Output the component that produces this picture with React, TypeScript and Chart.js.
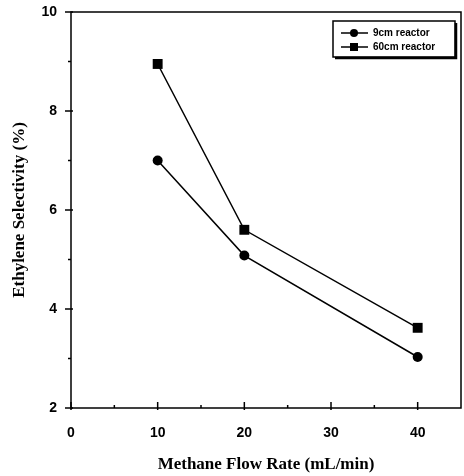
import React, { useEffect, useRef } from "react";
import { Chart, registerables } from "chart.js";

Chart.register(...registerables);

const flowRates = [10, 20, 40];
const reactor9cm = [7.0, 5.08, 3.03];
const reactor60cm = [8.95, 5.6, 3.62];
const seriesLabels = ["9cm reactor", "60cm reactor"];
const xTickValues = [0, 10, 20, 30, 40];
const xMinorValues = [5, 15, 25, 35];
const yTickValues = [2, 4, 6, 8, 10];
const yMinorValues = [3, 5, 7, 9];

const framePlugin = {
  id: "frameTicks",
  afterDraw(chart: any) {
    const { ctx, chartArea, scales } = chart;
    const { left, right, top, bottom } = chartArea;
    ctx.save();
    ctx.strokeStyle = "#000";
    ctx.lineWidth = 1.5;
    ctx.strokeRect(left, top, right - left, bottom - top);
    yTickValues.forEach((v) => {
      const y = scales.y.getPixelForValue(v);
      ctx.beginPath();
      ctx.moveTo(left - 6, y);
      ctx.lineTo(left + 2, y);
      ctx.stroke();
    });
    yMinorValues.forEach((v) => {
      const y = scales.y.getPixelForValue(v);
      ctx.beginPath();
      ctx.moveTo(left - 3, y);
      ctx.lineTo(left, y);
      ctx.stroke();
    });
    xTickValues.forEach((v) => {
      const x = scales.x.getPixelForValue(v);
      ctx.beginPath();
      ctx.moveTo(x, bottom + 2);
      ctx.lineTo(x, bottom - 6);
      ctx.stroke();
    });
    xMinorValues.forEach((v) => {
      const x = scales.x.getPixelForValue(v);
      ctx.beginPath();
      ctx.moveTo(x, bottom);
      ctx.lineTo(x, bottom - 3);
      ctx.stroke();
    });
    ctx.restore();
  },
};

const legendPlugin = {
  id: "boxLegend",
  afterDraw(chart: any) {
    const { ctx, chartArea } = chart;
    const bx = chartArea.right - 128;
    const by = chartArea.top + 9;
    const bw = 122;
    const bh = 36;
    ctx.save();
    ctx.fillStyle = "#fff";
    ctx.fillRect(bx, by, bw, bh);
    ctx.strokeStyle = "#000";
    ctx.lineWidth = 1.5;
    ctx.strokeRect(bx, by, bw, bh);
    ctx.lineWidth = 2.5;
    ctx.beginPath();
    ctx.moveTo(bx + bw + 1, by + 2);
    ctx.lineTo(bx + bw + 1, by + bh + 1);
    ctx.lineTo(bx + 2, by + bh + 1);
    ctx.stroke();
    ctx.font = "bold 10px 'Liberation Sans', Arial, sans-serif";
    ctx.textBaseline = "middle";
    ctx.fillStyle = "#000";
    const rows = [by + 12, by + 26];
    rows.forEach((ry, i) => {
      ctx.lineWidth = 1.5;
      ctx.beginPath();
      ctx.moveTo(bx + 8, ry);
      ctx.lineTo(bx + 35, ry);
      ctx.stroke();
      ctx.beginPath();
      if (i === 0) {
        ctx.arc(bx + 21, ry, 4, 0, Math.PI * 2);
      } else {
        ctx.rect(bx + 17, ry - 4, 8, 8);
      }
      ctx.fill();
      ctx.fillText(seriesLabels[i], bx + 40, ry);
    });
    ctx.restore();
  },
};

export default function App() {
  const ref = useRef<HTMLCanvasElement>(null);
  useEffect(() => {
    document.body.style.margin = "0";
    const chart = new Chart(ref.current!, {
      type: "line",
      data: {
        datasets: [
          {
            label: seriesLabels[0],
            data: flowRates.map((x, i) => ({ x, y: reactor9cm[i] })),
            borderColor: "#000",
            backgroundColor: "#000",
            borderWidth: 1.5,
            pointStyle: "circle",
            pointRadius: 5,
            pointBorderWidth: 0,
            tension: 0,
          },
          {
            label: seriesLabels[1],
            data: flowRates.map((x, i) => ({ x, y: reactor60cm[i] })),
            borderColor: "#000",
            backgroundColor: "#000",
            borderWidth: 1.5,
            pointStyle: "rect",
            pointRadius: 7,
            pointBorderWidth: 0,
            tension: 0,
          },
        ],
      },
      options: {
        animation: false,
        responsive: false,
        layout: { autoPadding: false, padding: { top: 12, right: 3, left: 0, bottom: 0 } },
        plugins: { legend: { display: false }, tooltip: { enabled: false } },
        scales: {
          x: {
            type: "linear",
            min: 0,
            max: 45,
            afterBuildTicks: (s: any) => {
              s.ticks = xTickValues.map((v) => ({ value: v }));
            },
            afterFit: (s: any) => {
              s.height = 68;
              s.paddingLeft = 0;
              s.paddingRight = 0;
            },
            grid: { display: false, drawTicks: false },
            border: { display: false },
            ticks: {
              color: "#000",
              padding: 17,
              maxRotation: 0,
              font: { family: "'Liberation Sans', Arial, sans-serif", size: 14, weight: "bold" },
            },
            title: {
              display: true,
              text: "Methane Flow Rate (mL/min)",
              color: "#000",
              padding: { top: 0, bottom: 1 },
              font: { family: "'Liberation Serif', 'Times New Roman', serif", size: 17, weight: "bold" },
            },
          },
          y: {
            type: "linear",
            min: 2,
            max: 10,
            afterBuildTicks: (s: any) => {
              s.ticks = yTickValues.map((v) => ({ value: v }));
            },
            afterFit: (s: any) => {
              s.width = 71;
              s.paddingTop = 0;
              s.paddingBottom = 0;
            },
            grid: { display: false, drawTicks: false },
            border: { display: false },
            ticks: {
              color: "#000",
              padding: 14,
              font: { family: "'Liberation Sans', Arial, sans-serif", size: 14, weight: "bold" },
            },
            title: {
              display: true,
              text: "Ethylene Selectivity (%)",
              color: "#000",
              padding: { top: 9, bottom: 0 },
              font: { family: "'Liberation Serif', 'Times New Roman', serif", size: 17, weight: "bold" },
            },
          },
        },
      },
      plugins: [framePlugin, legendPlugin],
    });
    return () => chart.destroy();
  }, []);
  return (
    <div style={{ width: 464, height: 476 }}>
      <canvas ref={ref} width={464} height={476} />
    </div>
  );
}
